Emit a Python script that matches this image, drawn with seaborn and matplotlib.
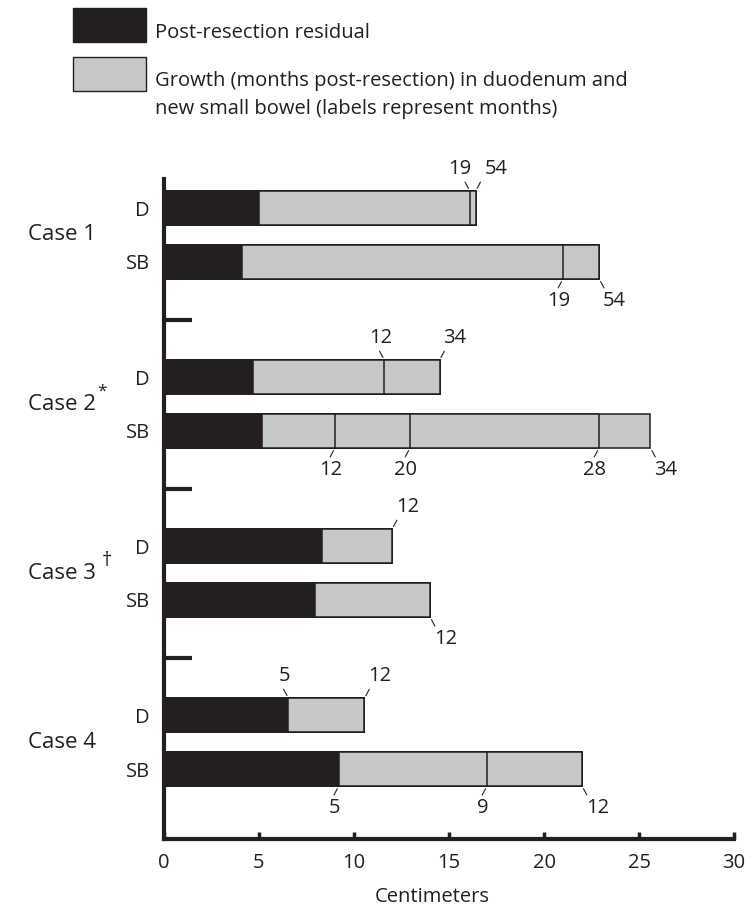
import numpy as np
import pandas as pd
import matplotlib
matplotlib.use("Agg")
import matplotlib.pyplot as plt
import matplotlib.transforms as mtransforms
from matplotlib.patches import Rectangle
from matplotlib.ticker import FixedLocator
import seaborn as sns

# data (centimeters)
cases = ["Case 1", "Case 2", "Case 3", "Case 4"]
case_marks = ["", "*", "\u2020", ""]
rows = ["D", "SB"]

residual_d = [5.0, 4.7, 8.3, 6.55]
residual_sb = [4.1, 5.15, 7.95, 9.2]

# cumulative bar length at each follow-up, and the month it was measured
growth_d = [[16.1, 16.4], [11.6, 14.5], [12.0], [10.55]]
months_d = [[19, 54], [12, 34], [12], [12]]
growth_sb = [[21.0, 22.9], [9.0, 12.95, 22.9, 25.6], [14.0], [17.0, 22.0]]
months_sb = [[19, 54], [12, 20, 28, 34], [12], [9, 12]]

# month label put on the residual/growth boundary (only case 4)
residual_month_d = [0, 0, 0, 5]
residual_month_sb = [0, 0, 0, 5]

dark = "#231f20"
grey = "#c6c7c9"
fs = 14.5

sns.set_theme(style="white")
plt.rcParams['font.family'] = ['Open Sans', 'DejaVu Sans']

CASE_STEP = 3.14
BAR_W = 0.63

# one row per bar
recs = []
for i in range(len(cases)):
    recs.append(dict(case=i, row="D", ypos=i * CASE_STEP, residual=residual_d[i],
                     growth=growth_d[i], months=months_d[i], rmonth=residual_month_d[i]))
    recs.append(dict(case=i, row="SB", ypos=i * CASE_STEP + 1, residual=residual_sb[i],
                     growth=growth_sb[i], months=months_sb[i], rmonth=residual_month_sb[i]))
bars = pd.DataFrame(recs)

fig = plt.figure(figsize=(7.54, 9.10), dpi=100)
ax = fig.add_axes([0.2175, 0.078, 0.756, 0.7253])

# stacked look: draw the longest level first, shorter ones on top
n_levels = bars['growth'].apply(len).max()
for lev in range(n_levels, 0, -1):
    vals = bars['growth'].apply(lambda g: g[min(lev, len(g)) - 1])
    sns.barplot(x=vals.values, y=bars['ypos'].values, orient='y', native_scale=True,
                color=grey, saturation=1, edgecolor=dark, linewidth=1.1,
                width=BAR_W, errorbar=None, ax=ax)
sns.barplot(x=bars['residual'].values, y=bars['ypos'].values, orient='y', native_scale=True,
            color=dark, saturation=1, edgecolor=dark, linewidth=1.1,
            width=BAR_W, errorbar=None, ax=ax)

ax.set_xlim(0, 30)
ax.set_ylim(3 * CASE_STEP + 1 + 1.30, -0.54)

# month labels with little leader ticks
for _, r in bars.iterrows():
    bnds = list(r['growth'])
    labs = list(r['months'])
    if r['rmonth']:
        bnds = [r['residual']] + bnds
        labs = [r['rmonth']] + labs
    above = r['row'] == "D"
    edge = r['ypos'] - BAR_W / 2 if above else r['ypos'] + BAR_W / 2
    sy = 1 if above else -1
    for k, (b, m) in enumerate(zip(bnds, labs)):
        last = k == len(bnds) - 1
        sx = 1 if last else -1
        off = 11 if last else -3
        # crowded boundaries get pushed apart
        if len(bnds) > 1:
            gap = (b - bnds[k - 1]) if last else (bnds[k + 1] - b)
            if gap < 1:
                off += 4 * sx
        ax.annotate("", xy=(b, edge), xytext=(sx * 3.5, sy * 6.5), textcoords='offset points',
                    arrowprops=dict(arrowstyle='-', color=dark, lw=0.8, shrinkA=0, shrinkB=2.2))
        ax.annotate(str(int(m)), xy=(b, edge), xytext=(off, sy * 8.5), textcoords='offset points',
                    ha='center', va='bottom' if above else 'top', fontsize=fs, color=dark)

# axes styling
sns.despine(ax=ax)
for s in ['left', 'bottom']:
    ax.spines[s].set_linewidth(3)
    ax.spines[s].set_color(dark)

ax.set_xticks(np.arange(0, 31, 5))
ax.tick_params(axis='x', bottom=True, direction='in', length=5, width=2.5, color=dark,
               labelsize=fs, labelcolor=dark, pad=10)
ax.set_xlabel("Centimeters", fontsize=fs, color=dark)
ax.xaxis.set_label_coords(0.47, -0.072)

ax.set_yticks(bars['ypos'].values)
ax.set_yticklabels(bars['row'].values)
ax.tick_params(axis='y', which='major', left=True, length=0, labelsize=fs, labelcolor=dark, pad=10)
seps = [i * CASE_STEP - (CASE_STEP - 1) / 2 for i in range(1, len(cases))]
ax.yaxis.set_minor_locator(FixedLocator(seps))
ax.tick_params(axis='y', which='minor', left=True, direction='in', length=20, width=3, color=dark)
ax.set_ylabel("")
ax.grid(False)

trans = mtransforms.blended_transform_factory(ax.transAxes, ax.transData)
for i, (c, mk) in enumerate(zip(cases, case_marks)):
    yc = i * CASE_STEP + 0.5
    ax.text(-0.12, yc, c, transform=trans, ha='right', va='center', fontsize=fs + 1.5, color=dark)
    if mk:
        ax.annotate(mk, xy=(-0.12, yc), xycoords=trans, xytext=(1.5 if mk == "*" else 4.5, 9),
                    textcoords='offset points', ha='left', va='center',
                    fontsize=fs - 2 if mk == "*" else fs, color=dark)

# legend drawn by hand at the top
W, H = 754, 910
fig.patches.append(Rectangle((73 / W, 1 - 42 / H), 73 / W, 34 / H, transform=fig.transFigure,
                             facecolor=dark, edgecolor=dark, lw=1))
fig.patches.append(Rectangle((73 / W, 1 - 91 / H), 73 / W, 34 / H, transform=fig.transFigure,
                             facecolor=grey, edgecolor=dark, lw=1))
fig.text(155 / W, 1 - 38 / H, "Post-resection residual", fontsize=fs, color=dark, va='baseline')
fig.text(155 / W, 1 - 86 / H, "Growth (months post-resection) in duodenum and",
         fontsize=fs, color=dark, va='baseline')
fig.text(155 / W, 1 - 114 / H, "new small bowel (labels represent months)",
         fontsize=fs, color=dark, va='baseline')

fig.savefig("out.png", dpi=100)
